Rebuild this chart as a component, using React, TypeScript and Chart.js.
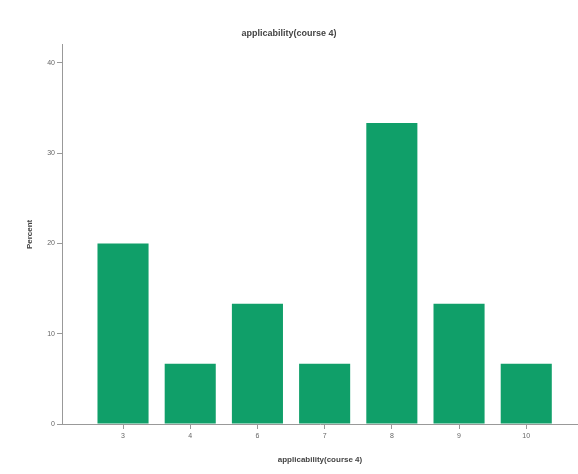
import React, { useEffect, useRef } from "react";
import { Chart, registerables } from "chart.js";

Chart.register(...registerables);

const categories = ["3", "4", "6", "7", "8", "9", "10"];
const percentValues = [20.0, 6.67, 13.33, 6.67, 33.33, 13.33, 6.67];
const chartTitle = "applicability(course 4)";
const xTitle = "applicability(course 4)";
const yTitle = "Percent";

export default function App() {
  const ref = useRef<HTMLCanvasElement | null>(null);

  useEffect(() => {
    if (!ref.current) return;
    const font = "'Liberation Sans', Arial, sans-serif";
    const chart = new Chart(ref.current, {
      type: "bar",
      data: {
        datasets: [
          {
            data: percentValues.map((v, i) => ({ x: i, y: v })),
            backgroundColor: "#109f69",
            borderWidth: 0,
            categoryPercentage: 0.8,
            barPercentage: 0.95,
          },
        ],
      },
      options: {
        responsive: false,
        animation: false,
        layout: { padding: 0 },
        plugins: {
          legend: { display: false },
          tooltip: { enabled: false },
          title: {
            display: true,
            text: chartTitle,
            color: "#444",
            font: { family: font, size: 9, weight: "bold" },
            padding: { top: 28, bottom: 6 },
          },
        },
        scales: {
          x: {
            type: "linear",
            offset: false,
            min: -0.908,
            max: 6.77,
            afterFit: (s: any) => {
              s.height = 50;
            },
            ticks: {
              stepSize: 1,
              includeBounds: false,
              autoSkip: false,
              maxRotation: 0,
              color: "#666",
              font: { family: font, size: 7 },
              padding: 3,
              callback: (v: any) => {
                const n = Number(v);
                return Number.isInteger(n) && n >= 0 && n < categories.length ? categories[n] : "";
              },
            },
            grid: {
              display: true,
              offset: false,
              drawOnChartArea: false,
              drawTicks: true,
              tickLength: 5,
              color: "#999",
            },
            border: { display: true, color: "#999" },
            title: {
              display: true,
              text: xTitle,
              color: "#444",
              font: { family: font, size: 8, weight: "bold" },
              padding: { top: 4, bottom: 9 },
            },
          },
          y: {
            min: 0,
            max: 42,
            afterFit: (s: any) => {
              s.width = 62;
            },
            ticks: {
              stepSize: 10,
              includeBounds: false,
              color: "#666",
              font: { family: font, size: 7 },
              padding: 2,
            },
            grid: {
              display: true,
              drawOnChartArea: false,
              drawTicks: true,
              tickLength: 5,
              color: "#999",
            },
            border: { display: true, color: "#999" },
            title: {
              display: true,
              text: yTitle,
              color: "#444",
              font: { family: font, size: 8, weight: "bold" },
              padding: { top: 25, bottom: 0 },
            },
          },
        },
      },
    });
    return () => chart.destroy();
  }, []);

  return (
    <div style={{ position: "fixed", left: 0, top: 0, width: 578, height: 474, background: "#fff" }}>
      <canvas ref={ref} width={578} height={474} style={{ width: 578, height: 474, display: "block" }} />
    </div>
  );
}
